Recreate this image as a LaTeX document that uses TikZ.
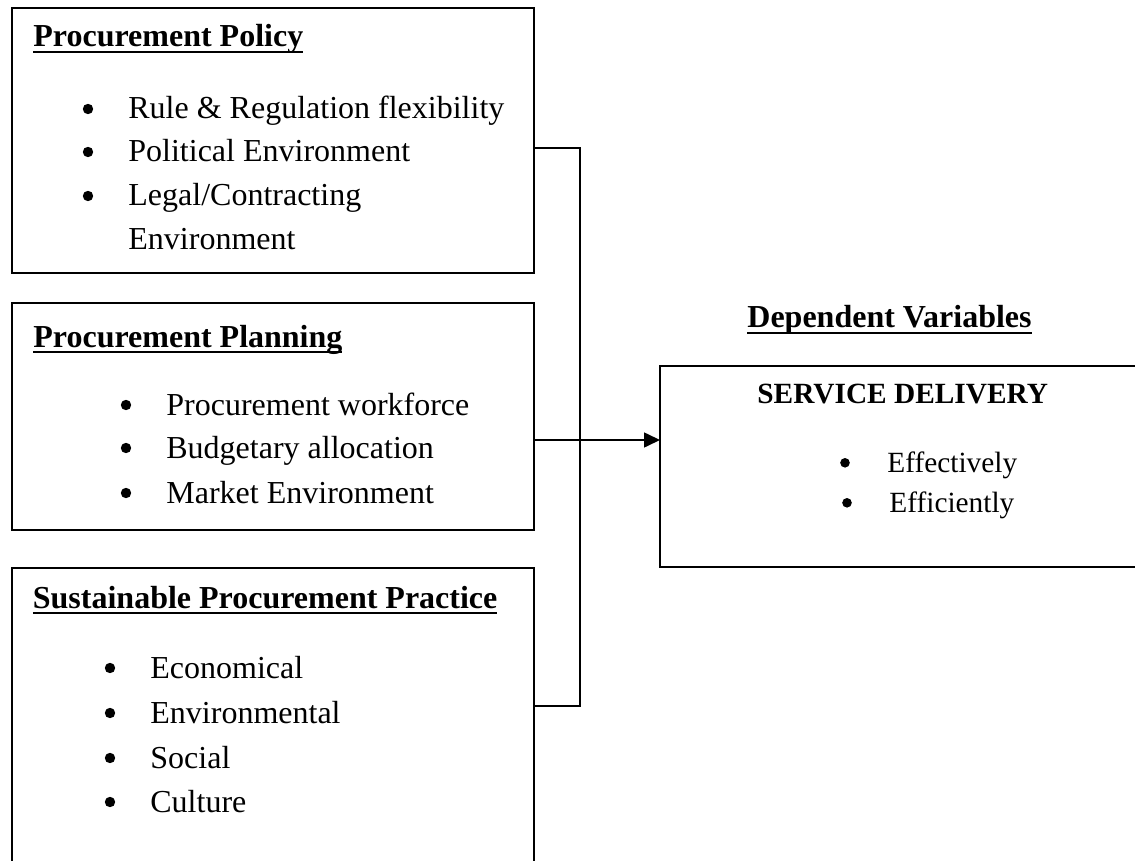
\documentclass[tikz,border=0pt]{standalone}
\usepackage{fontspec}
\setmainfont{Liberation Serif}
\usetikzlibrary{arrows.meta}
\newcommand\myul[1]{\setbox0\hbox{#1}\rlap{\rule[-3.2pt]{\wd0}{1.4pt}}\box0}
\tikzset{
  box/.style={draw, line width=1pt, inner sep=0pt, outer sep=0pt, anchor=north west},
  ttl/.style={inner sep=0pt, anchor=base west, font=\fontsize{16}{19}\selectfont\bfseries},
  sttl/.style={inner sep=0pt, anchor=base west, font=\fontsize{14.67}{17}\selectfont\bfseries},
  itm/.style={inner sep=0pt, anchor=base west, font=\fontsize{16}{19}\selectfont},
  sitm/.style={inner sep=0pt, anchor=base west, font=\fontsize{14.67}{17}\selectfont},
  link/.style={line width=0.8pt},
}
\begin{document}
\begin{tikzpicture}[x=0.5pt, y=-0.5pt]
\useasboundingbox (0,0) rectangle (1135,861);
\clip (0,0) rectangle (1135,861);
\fill[white] (0,0) rectangle (1135,861);

% boxes
\node[box, minimum width=261pt, minimum height=132.5pt] (b1) at (12,8) {};
\node[box, minimum width=261pt, minimum height=113.5pt] (b2) at (12,303) {};
\node[box, minimum width=261pt, minimum height=170pt] (b3) at (12,568) {};
\node[box, minimum width=250pt, minimum height=100.5pt] (rb) at (660,366) {};

% box 1
\node[ttl] (t1) at (33,47) {\myul{Procurement Policy}};
\node[itm] (i11) at (128,119) {Rule \& Regulation flexibility};
\node[itm] (i12) at (128,162) {Political Environment};
\node[itm] (i13) at (128,206) {Legal/Contracting};
\node[itm] (i14) at (128,250) {Environment};

% box 2
\node[ttl] (t2) at (33,347) {\myul{Procurement Planning}};
\node[itm] (i21) at (166,415) {Procurement workforce};
\node[itm] (i22) at (166,458) {Budgetary allocation};
\node[itm] (i23) at (166,503) {Market Environment};

% box 3
\node[ttl] (t3) at (32.5,608) {\myul{Sustainable Procurement Practice}};
\node[itm] (i31) at (150,678) {Economical};
\node[itm] (i32) at (150,723) {Environmental};
\node[itm] (i33) at (150,768) {Social};
\node[itm] (i34) at (150,812) {Culture};

% right side
\node[ttl] (dv) at (747,328) {\myul{Dependent Variables}};
\node[sttl] (sd) at (757,403) {SERVICE DELIVERY};
\node[sitm] (r1) at (887,472) {Effectively};
\node[sitm] (r2) at (889,512) {Efficiently};

% bullets
\foreach \n in {i11,i12,i13,i21,i22,i23,i31,i32,i33,i34}
  \fill ([shift={(-20pt,5pt)}]\n.base west) circle (2.6pt);
\foreach \n in {r1,r2}
  \fill ([shift={(-21pt,4.6pt)}]\n.base west) circle (2.4pt);

% connectors
\coordinate (jt) at (580,148);
\coordinate (ja) at (580,440);
\coordinate (jb) at (580,706);
\draw[link] (b1.east |- jt) -- (jt) -- (jb) -- (b3.east |- jb);
\draw[link, -{Triangle[length=8pt,width=7.5pt]}] (b2.east |- ja) -- (rb.west |- ja);
\end{tikzpicture}
\end{document}
